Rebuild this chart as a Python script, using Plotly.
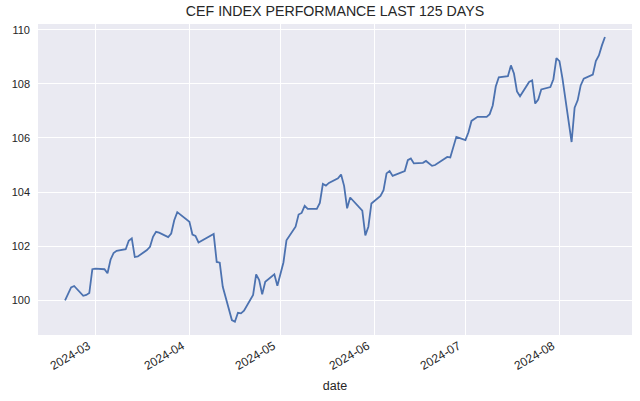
import pandas as pd
import plotly.graph_objects as go

# ---- data ----
start_date = "2024-02-20"
end_date = "2024-08-16"
market_holidays = ["2024-03-29", "2024-05-27", "2024-06-19", "2024-07-04"]

feb_values = [100.0, 100.25, 100.48, 100.53, 100.17, 100.2, 100.27, 101.15]
mar_values = [101.17, 101.15, 101.0, 101.5, 101.75, 101.83, 101.89, 102.2, 102.29, 101.6,
              101.62, 101.86, 101.98, 102.35, 102.53, 102.5, 102.34, 102.47, 102.96, 103.26]
apr_values = [102.9, 102.43, 102.38, 102.14, 102.2, 102.37, 102.45, 101.42, 101.39, 100.5,
              99.27, 99.21, 99.54, 99.52, 99.62, 100.2, 100.96, 100.75, 100.22, 100.69,
              100.96, 100.54]
may_values = [101.0, 101.4, 102.22, 102.72, 103.17, 103.23, 103.49, 103.38, 103.38, 103.6,
              104.3, 104.24, 104.34, 104.51, 104.65, 104.23, 103.4, 103.8, 103.31, 102.4,
              102.72, 103.58]
jun_values = [103.86, 104.07, 104.69, 104.78, 104.6, 104.75, 104.78, 105.18, 105.24, 105.06,
              105.08, 105.15, 104.97, 105.0, 105.25, 105.3, 105.28, 105.67, 106.04]
jul_values = [105.92, 106.21, 106.63, 106.78, 106.78, 106.88, 107.2, 107.9, 108.24, 108.28,
              108.68, 108.38, 107.72, 107.54, 108.07, 108.13, 107.27, 107.42, 107.79, 107.88,
              108.17, 108.95]
aug_values = [108.84, 108.19, 105.85, 107.12, 107.39, 107.94, 108.19, 108.34, 108.84, 109.05,
              109.42, 109.73]

y_tick_values = [100, 102, 104, 106, 108, 110]
x_tick_values = ["2024-03-01", "2024-04-01", "2024-05-01", "2024-06-01", "2024-07-01", "2024-08-01"]
x_tick_labels = ["2024-03", "2024-04", "2024-05", "2024-06", "2024-07", "2024-08"]

title_text = "CEF INDEX PERFORMANCE LAST 125 DAYS"
x_title = "date"

# ---- build ----
dates = pd.bdate_range(start_date, end_date, freq="C", holidays=market_holidays)
values = feb_values + mar_values + apr_values + may_values + jun_values + jul_values + aug_values
n = min(len(dates), len(values))
dates = dates[:n]
values = values[:n]

font_family = "Liberation Sans, Arial, DejaVu Sans, sans-serif"
text_color = "#262626"

fig = go.Figure()
fig.add_trace(go.Scatter(
    x=dates, y=values, mode="lines",
    line=dict(color="#4C72B0", width=1.8),
    showlegend=False,
))

fig.update_layout(
    width=640, height=401,
    margin=dict(l=38, r=8, t=24, b=66, autoexpand=False),
    paper_bgcolor="white",
    plot_bgcolor="#EAEAF2",
    font=dict(family=font_family, color=text_color, size=11),
    title=dict(text=title_text, x=0.5, xref="paper", y=1, yref="container",
               yanchor="top", pad=dict(t=6),
               font=dict(size=14.2, color=text_color, family=font_family),
               automargin=False),
)

fig.update_xaxes(
    range=["2024-02-11 02:00", "2024-08-24 22:00"],
    tickvals=x_tick_values, ticktext=x_tick_labels,
    tickangle=-30, ticks="", ticklabelshift=-7, ticklabelstandoff=1,
    showgrid=True, gridcolor="white", gridwidth=1,
    zeroline=False, showline=False, automargin=False,
    title=dict(text=x_title, font=dict(size=12.5), standoff=9),
    tickfont=dict(size=12),
)
fig.update_yaxes(
    range=[98.72, 110.21],
    tickvals=y_tick_values,
    ticks="", ticklabelstandoff=7,
    showgrid=True, gridcolor="white", gridwidth=1,
    zeroline=False, showline=False, automargin=False,
    tickfont=dict(size=11),
)

fig.write_html("out.html", post_script="document.body.style.margin='0';",
               config={"displayModeBar": False})
